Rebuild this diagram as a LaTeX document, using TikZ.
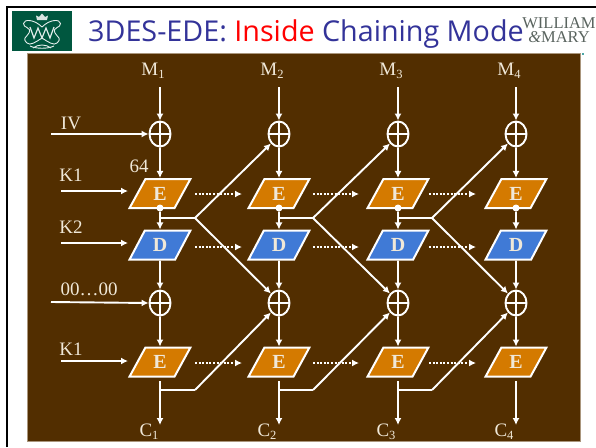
\documentclass[tikz,border=0pt]{standalone}
\usepackage{fontspec}
\setmainfont{Liberation Serif}
\newfontfamily\titlefont{Open Sans}
\usetikzlibrary{arrows.meta,shapes.geometric}
\definecolor{panel}{RGB}{82,46,0}
\definecolor{panelrim}{RGB}{170,150,125}
\definecolor{cream}{RGB}{240,232,216}
\definecolor{enc}{RGB}{212,122,0}
\definecolor{dec}{RGB}{64,122,214}
\definecolor{titleblue}{RGB}{51,51,153}
\definecolor{wmgreen}{RGB}{0,87,63}
\definecolor{wmgrey}{RGB}{90,100,95}
\tikzset{
  x=1pt,y=-1pt,
  wire/.style={draw=white,line width=1.9pt},
  arrowwire/.style={wire,-{Latex[length=7pt,width=7pt]}},
  dotwire/.style={draw=white,line width=2pt,dash pattern=on 2pt off 1.6pt,-{Latex[length=7pt,width=7pt]}},
  xorbox/.style={ellipse,draw=white,line width=1.9pt,minimum width=21pt,minimum height=25pt,inner sep=0pt},
  cipher/.style={trapezium,trapezium left angle=61,trapezium right angle=119,trapezium stretches=true,
    draw=white,line width=2pt,minimum width=61pt,minimum height=29pt,inner sep=0pt,
    text=cream,font=\fontsize{20}{20}\selectfont\bfseries},
  encbox/.style={cipher,fill=enc},
  decbox/.style={cipher,fill=dec},
  lab/.style={text=cream,font=\fontsize{19}{19}\selectfont,inner sep=0pt,anchor=base},
  joint/.style={circle,fill=white,inner sep=0pt,minimum size=7pt},
  cyph/.style={draw=white!90!wmgreen,line width=.9pt}
}
\newcommand{\subs}[1]{\raisebox{-3.5pt}{\fontsize{12.5}{12.5}\selectfont #1}}
\begin{document}
\begin{tikzpicture}
\useasboundingbox (0,0) rectangle (596,447);
\fill[white] (0,0) rectangle (596,447);
\draw[black,line width=2pt] (7,447) -- (7,7) -- (596,7);
% logo
\fill[wmgreen] (12,11) rectangle (72,51);
\fill[white!85!wmgreen] (37,20) -- (36,15.5) -- (39,17) -- (42,13.5) -- (45,17) -- (48,15.5) -- (47,20) -- cycle;
\draw[cyph] (42,27) .. controls (34,19) and (24,19) .. (23.5,23.5) .. controls (23,28) and (32,27) .. (29,33)
  .. controls (26,38) and (22,38) .. (27,43) .. controls (30,46) and (36,42) .. (42,38);
\draw[cyph] (42,27) .. controls (50,19) and (60,19) .. (60.5,23.5) .. controls (61,28) and (52,27) .. (55,33)
  .. controls (58,38) and (62,38) .. (57,43) .. controls (54,46) and (48,42) .. (42,38);
\draw[cyph,line width=1.2pt] (30,27) -- (34,38) -- (38,28) -- (42,38) -- (46,28) -- (50,38) -- (54,27);
\draw[cyph] (30,46) .. controls (36,49) and (48,49) .. (54,46);
\draw[cyph] (33,48) .. controls (38,44) and (46,44) .. (51,48);
% title
\node[anchor=base west,inner sep=0pt,font=\titlefont\fontsize{28.7}{28.7}\selectfont,text=titleblue] (title) at (88,41.5)
  {3DES-EDE: \textcolor{red}{Inside} Chaining Mode};
\node[anchor=center,inner sep=0pt,align=center,font=\fontsize{16.5}{13.5}\selectfont,text=wmgrey] (wm) at (559,30)
  {WILLIAM\\\textit{\&}MARY};
% panel
\fill[panel,draw=panelrim,line width=.7pt] (27,53) rectangle (580,441);
\fill[teal!70!white] (582,53) rectangle (584,55);
% blocks
\foreach \i/\cx in {1/160,2/279,3/398,4/516}{
  \node[lab] (m\i) at (\cx-7,75) {M\subs{\i}};
  \coordinate (mt\i) at (\cx,87);
  \node[xorbox] (xa\i) at (\cx,134) {};
  \node[encbox] (ea\i) at (\cx,193.5) {E};
  \node[decbox] (d\i) at (\cx,245) {D};
  \node[xorbox] (xb\i) at (\cx,303) {};
  \node[encbox] (eb\i) at (\cx,362) {E};
  \node[joint] (ja\i) at (\cx,208) {};
  \coordinate (cs\i) at (\cx,381);
  \coordinate (ce\i) at (\cx,425);
  \draw[wire] (xa\i.north) -- (xa\i.south) (xa\i.west) -- (xa\i.east);
  \draw[wire] (xb\i.north) -- (xb\i.south) (xb\i.west) -- (xb\i.east);
  \draw[arrowwire] (mt\i) -- (xa\i.north);
  \draw[arrowwire] (xa\i.south) -- (ea\i.north);
  \draw[arrowwire] (ja\i) -- (d\i.north);
  \draw[arrowwire] (d\i.south) -- (xb\i.north);
  \draw[arrowwire] (xb\i.south) -- (eb\i.north);
  \draw[arrowwire] (cs\i) -- (ce\i);
}
\node[lab] (c1) at (149,436) {C\subs{1}};
\node[lab] (c2) at (267,436) {C\subs{2}};
\node[lab] (c3) at (386,436) {C\subs{3}};
\node[lab] (c4) at (504,436) {C\subs{4}};
% diagonal feedback
\foreach \a/\b/\kx in {1/2/195,2/3/313,3/4/432}{
  \coordinate (ka\a) at (\kx,218);
  \coordinate (kb\a) at (\kx,390);
  \coordinate (sa\a) at ([yshift=-10pt]ja\a.center);
  \coordinate (sb\a) at ([yshift=-9pt]cs\a);
  \draw[wire] (sa\a) -- (ka\a);
  \draw[arrowwire] (ka\a) -- (xa\b.south west);
  \draw[arrowwire] (ka\a) -- (xb\b.north west);
  \draw[wire] (sb\a) -- (kb\a);
  \draw[arrowwire] (kb\a) -- (xb\b.south west);
}
% dotted arrows
\foreach \a/\b/\ax/\bx in {1/2/195/242,2/3/313/359,3/4/429/476}{
  \coordinate (da\a) at (\ax,194); \coordinate (db\a) at (\bx,194);
  \coordinate (dc\a) at (\ax,247); \coordinate (dd\a) at (\bx,247);
  \coordinate (de\a) at (\ax,363); \coordinate (df\a) at (\bx,363);
  \draw[dotwire] (da\a) -- (db\a);
  \draw[dotwire] (dc\a) -- (dd\a);
  \draw[dotwire] (de\a) -- (df\a);
}
% inputs
\node[lab] (iv) at (71,129) {IV};
\node[lab] (n64) at (139,172) {64};
\node[lab] (k1a) at (71,181) {K1};
\node[lab] (k2) at (71,233) {K2};
\node[lab] (zero) at (89,295) {00…00};
\node[lab] (k1b) at (71,355) {K1};
\coordinate (ivs) at (51,134);
\coordinate (zs) at (51,302);
\coordinate (k1s) at (61,191);
\coordinate (k1e) at (128,191);
\coordinate (k2s) at (61,243);
\coordinate (k2e) at (128,243);
\coordinate (k3s) at (61,361);
\coordinate (k3e) at (128,361);
\draw[arrowwire] (ivs) -- (xa1.west);
\draw[arrowwire] (zs) -- (xb1.west);
\draw[arrowwire] (k1s) -- (k1e);
\draw[arrowwire] (k2s) -- (k2e);
\draw[arrowwire] (k3s) -- (k3e);
\end{tikzpicture}
\end{document}
